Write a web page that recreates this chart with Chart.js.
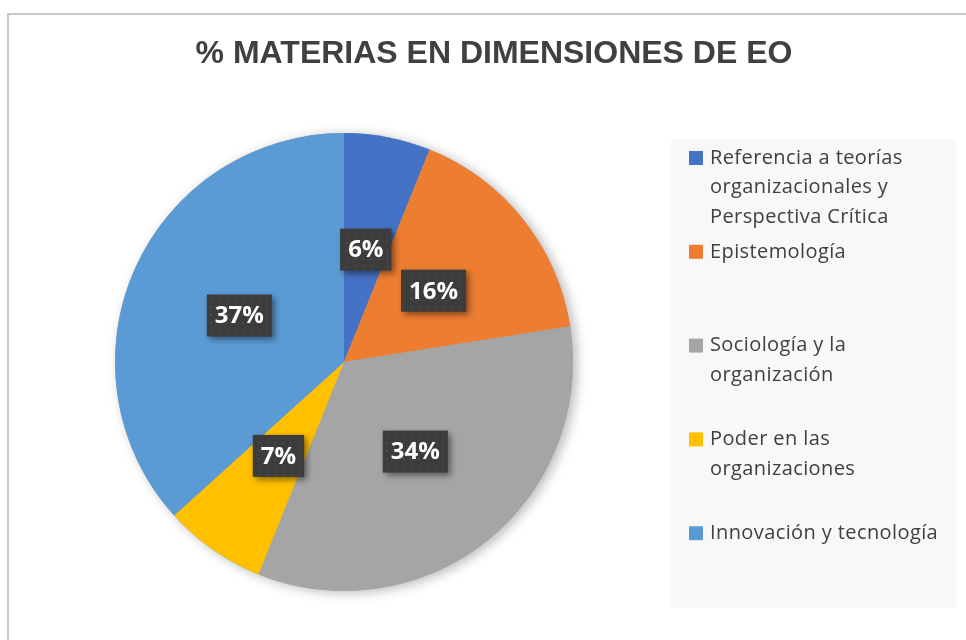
<!DOCTYPE html>
<html><head><meta charset="utf-8">
<script src="https://cdn.jsdelivr.net/npm/chart.js@4"></script>
<style>
html,body{margin:0;padding:0;background:#fff;overflow:hidden;}
#wrap{position:relative;width:966px;height:640px;}
#frame{position:absolute;left:7px;top:13px;width:1000px;height:700px;border:2px solid #c8c8c8;box-sizing:border-box;pointer-events:none}
canvas{position:absolute;left:0;top:0}
</style></head><body>
<div id="wrap"><canvas id="c" width="966" height="640"></canvas><div id="frame"></div></div>
<script>
const titleText = '% MATERIAS EN DIMENSIONES DE EO';
const categories = [
  ['Referencia a teorías', 'organizacionales y', 'Perspectiva Crítica'],
  ['Epistemología'],
  ['Sociología y la', 'organización'],
  ['Poder en las', 'organizaciones'],
  ['Innovación y tecnología']
];
const values = [6.1, 16.4, 33.6, 7.2, 36.7];
const colors = ['#4472C4', '#ED7D31', '#A5A5A5', '#FFC000', '#5B9BD5'];

function makePattern(ctx) {
  const p = document.createElement('canvas');
  p.width = 8; p.height = 8;
  const g = p.getContext('2d');
  g.fillStyle = '#3c3c3c'; g.fillRect(0, 0, 8, 8);
  g.fillStyle = '#4a4a4a'; g.fillRect(2, 2, 2, 2);
  return ctx.createPattern(p, 'repeat');
}

const pieShadow = {
  id: 'pieShadow',
  beforeDatasetsDraw(chart) {
    const arc = chart.getDatasetMeta(0).data[0];
    if (!arc) return;
    const ctx = chart.ctx;
    ctx.save();
    ctx.shadowColor = 'rgba(0,0,0,0.28)';
    ctx.shadowBlur = 12;
    ctx.shadowOffsetX = 4;
    ctx.shadowOffsetY = 2;
    ctx.fillStyle = '#a5a5a5';
    ctx.beginPath();
    ctx.arc(arc.x, arc.y, arc.outerRadius, 0, Math.PI * 2);
    ctx.fill();
    ctx.restore();
  }
};

const valueLabels = {
  id: 'valueLabels',
  afterDatasetsDraw(chart) {
    const ctx = chart.ctx;
    const meta = chart.getDatasetMeta(0);
    const pat = makePattern(ctx);
    ctx.save();
    ctx.font = 'bold 24px "Open Sans"';
    ctx.textAlign = 'center';
    ctx.textBaseline = 'middle';
    meta.data.forEach((arc, i) => {
      const pos = arc.tooltipPosition();
      const txt = Math.round(values[i]) + '%';
      const w = ctx.measureText(txt).width + 16;
      const h = 42;
      ctx.save();
      ctx.shadowColor = 'rgba(0,0,0,0.45)';
      ctx.shadowBlur = 6;
      ctx.shadowOffsetX = 3;
      ctx.shadowOffsetY = 3;
      ctx.fillStyle = pat;
      ctx.fillRect(pos.x - w / 2, pos.y - h / 2, w, h);
      ctx.restore();
      ctx.fillStyle = '#ffffff';
      ctx.fillText(txt, pos.x, pos.y + 1);
    });
    ctx.restore();
  }
};

const sideLegend = {
  id: 'sideLegend',
  beforeDraw(chart) {
    const ctx = chart.ctx;
    ctx.save();
    ctx.fillStyle = '#f8f8f8';
    ctx.fillRect(671, 139, 285, 469);
    ctx.restore();
  },
  afterDraw(chart) {
    const ctx = chart.ctx;
    ctx.save();
    // title
    ctx.font = 'bold 32px "Liberation Sans"';
    ctx.fillStyle = '#404040';
    ctx.textAlign = 'center';
    ctx.textBaseline = 'alphabetic';
    ctx.fillText(titleText, 494, 63);
    // legend
    ctx.font = '20px "Open Sans"';
    if ('letterSpacing' in ctx) ctx.letterSpacing = '0.4px';
    ctx.textAlign = 'left';
    ctx.textBaseline = 'middle';
    const step = 469 / 5;
    categories.forEach((lines, i) => {
      const y0 = 139 + 19 + i * step;
      ctx.fillStyle = colors[i];
      ctx.fillRect(689, y0 - 7, 14, 14);
      ctx.fillStyle = '#404040';
      lines.forEach((ln, j) => ctx.fillText(ln, 710, y0 + j * 29.5));
    });
    ctx.restore();
  }
};

new Chart(document.getElementById('c'), {
  type: 'pie',
  data: {
    labels: categories,
    datasets: [{
      data: values,
      backgroundColor: colors,
      borderWidth: 0
    }]
  },
  options: {
    responsive: false,
    animation: false,
    layout: { padding: { left: 115, top: 133, right: 393, bottom: 49 } },
    plugins: {
      legend: { display: false },
      title: { display: false },
      tooltip: { enabled: false }
    }
  },
  plugins: [pieShadow, valueLabels, sideLegend]
});
</script>
</body></html>
